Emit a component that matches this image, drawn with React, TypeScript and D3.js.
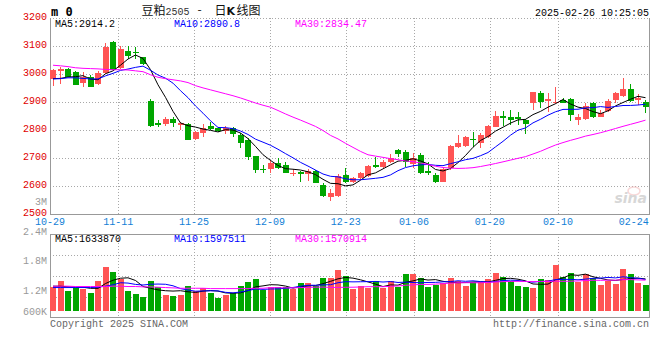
import React from "react";
import * as d3 from "d3";

const dates = ["10-29","10-30","10-31","11-01","11-04","11-05","11-06","11-07","11-08","11-11","11-12","11-13","11-14","11-15","11-18","11-19","11-20","11-21","11-22","11-25","11-26","11-27","11-28","11-29","12-02","12-03","12-04","12-05","12-06","12-09","12-10","12-11","12-12","12-13","12-16","12-17","12-18","12-19","12-20","12-23","12-24","12-25","12-26","12-27","12-30","12-31","01-02","01-03","01-06","01-07","01-08","01-09","01-10","01-13","01-14","01-15","01-16","01-17","01-20","01-21","01-22","01-23","01-24","01-27","02-05","02-06","02-07","02-10","02-11","02-12","02-13","02-14","02-17","02-18","02-19","02-20","02-21","02-24","02-25","02-26"];

const opens = [2982,3014,3018,3007,2969,2988,2965,3004,3114,3021,3083,3080,3059,2904,2823,2821,2840,2817,2821,2767,2788,2815,2805,2797,2808,2782,2764,2706,2660,2659,2682,2674,2642,2648,2641,2652,2603,2561,2563,2638,2614,2629,2635,2674,2668,2686,2728,2722,2678,2710,2652,2640,2615,2662,2740,2742,2768,2752,2773,2811,2850,2845,2847,2835,2897,2931,2904,2898,2907,2910,2835,2838,2895,2847,2868,2907,2922,2946,2909,2900];
const highs = [3019,3024,3021,3009,3006,2995,3012,3111,3119,3099,3100,3098,3060,2911,2835,2847,2845,2829,2823,2797,2821,2827,2811,2815,2811,2788,2770,2706,2674,2692,2698,2686,2659,2652,2659,2656,2609,2588,2641,2662,2632,2650,2674,2704,2692,2713,2731,2728,2716,2716,2686,2647,2662,2746,2781,2777,2793,2787,2816,2867,2866,2871,2865,2839,2936,2939,2931,2954,2915,2913,2856,2897,2900,2871,2910,2936,2984,2964,2927,2907];
const lows = [2958,2964,2989,2961,2953,2952,2961,3001,3013,3018,3052,3055,3032,2809,2811,2815,2811,2801,2763,2763,2773,2799,2793,2785,2773,2736,2692,2644,2644,2646,2659,2644,2635,2614,2618,2609,2559,2547,2561,2611,2609,2620,2630,2662,2662,2683,2704,2668,2662,2642,2638,2611,2612,2656,2734,2738,2740,2734,2771,2811,2815,2817,2817,2785,2871,2877,2863,2891,2895,2833,2817,2835,2843,2845,2865,2897,2918,2901,2889,2859];
const closes = [3015,3016,2989,2961,2988,2954,3004,3096,3013,3089,3064,3076,3034,2813,2818,2840,2826,2826,2764,2793,2805,2803,2797,2805,2785,2753,2704,2657,2656,2683,2662,2647,2647,2642,2652,2611,2563,2575,2635,2614,2628,2647,2672,2669,2686,2699,2714,2686,2698,2647,2645,2615,2659,2742,2752,2773,2762,2781,2812,2849,2843,2835,2839,2821,2934,2901,2910,2901,2897,2853,2845,2885,2845,2861,2904,2933,2946,2903,2913,2880];
const volumes = [1468000,1658000,1369000,1439000,1410000,1311000,1658000,2063000,1919000,1699000,1369000,1274000,1196000,1658000,1468000,1245000,1225000,1245000,1505000,1369000,1439000,1311000,1167000,1245000,1311000,1505000,1630000,1708000,1389000,1485000,1468000,1468000,1410000,1601000,1601000,1505000,1745000,1745000,1968000,1794000,1410000,1505000,1439000,1650000,1439000,1650000,1468000,1852000,1852000,1728000,1485000,1534000,1601000,1728000,1658000,1505000,1612000,1630000,1708000,1890000,1757000,1650000,1505000,1468000,1439000,1708000,1679000,2112000,1757000,1890000,1630000,1852000,1728000,1534000,1650000,1563000,1997000,1852000,1601000,1534000];

// moving-average values for bars whose window starts before 10-29
const ma5Early = [2983,2984,2989,2990];
const ma10Early = [2982,2983,2986,2986,2984,2982,2982,2993,3002];
const ma30Early = [3031,3029,3026,3022,3020,3019,3018,3016,3015,3015,3014,3011,3008,2997,2988,2983,2979,2975,2969,2958,2950,2943,2936,2929,2922,2914,2905,2896,2888];
const vma5Early = [1500000,1500000,1480000,1470000];
const vma10Early = [1460000,1460000,1460000,1460000,1460000,1460000,1470000,1500000,1540000];
const vma30Early = [1500000,1500000,1500000,1490000,1490000,1490000,1490000,1490000,1500000,1500000,1490000,1490000,1480000,1480000,1470000,1460000,1450000,1440000,1440000,1440000,1440000,1430000,1430000,1430000,1430000,1430000,1430000,1440000,1440000];

const priceTicks = [3200,3100,3000,2900,2800,2700,2600,2500];
const volTicks = [3000000,2400000,1800000,1200000,600000];
const volTickLabels = ["3M","2.4M","1.8M","1.2M","600K"];
const volGridTicks = [1200000,1800000,2400000];
const dateTickIdx = [0,9,19,29,39,48,58,67,77];
const priceMaLabels = ["MA5:2914.2","MA10:2890.8","MA30:2834.47"];
const volMaLabels = ["MA5:1633870","MA10:1597511","MA30:1570914"];
const maColors = ["#000000","#0000ff","#ff00ff"];
const titleCode = "m 0";
const titleName = "豆粕";
const titleContract = "2505";
const titleDash = "-";
const titleDay = "日";
const titleK = "K";
const titleKind = "线图";
const stamp = "2025-02-26 10:25:05";
const copyright = "Copyright 2025 SINA.COM";
const siteUrl = "http://finance.sina.com.cn";

const UP = "#ff5454";
const DOWN = "#00a600";
const GRID = "#a8a8a8";
const BORDER = "#999999";
const MONO = "'Liberation Mono', 'DejaVu Sans Mono', monospace";
const CJK = "'Noto Sans CJK SC', sans-serif";

function movingAvg(vals: number[], n: number, early: number[]) {
  return vals.map((_, i) => (i >= n - 1 ? (d3.mean(vals.slice(i - n + 1, i + 1)) as number) : early[i]));
}

export default function App() {
  const W = 660, H = 360;
  const L = 50, R = 649;
  const pTop = 18, pBot = 213.7;
  const vTop = 234.3, vBot = 317.3;

  const idx = d3.range(dates.length);
  const xb = d3.scaleBand<number>().domain(idx).range([L - 0.75, R + 0.25]).paddingInner(0.2).paddingOuter(0.1);
  const xc = (i: number) => (xb(i) as number) + xb.bandwidth() / 2;
  const xt = d3.scaleLinear().domain([0, dates.length - 1]).range([L, R]);
  const y = d3.scaleLinear().domain([2500, 3200]).range([pBot, pTop]);
  const yv = d3.scaleLinear().domain([600000, 3000000]).range([vBot, vTop]);
  const yvLabel = d3.scaleLinear().domain([1200000, 3000000]).range([294, 205]);
  const volBase = 790000;

  const ma = [movingAvg(closes, 5, ma5Early), movingAvg(closes, 10, ma10Early), movingAvg(closes, 30, ma30Early)];
  const vma = [movingAvg(volumes, 5, vma5Early), movingAvg(volumes, 10, vma10Early), movingAvg(volumes, 30, vma30Early)];

  const pLine = d3.line<number>().x((_, i) => xc(i)).y((d) => y(d));
  const vLine = d3.line<number>().x((_, i) => xc(i)).y((d) => yv(d));

  const snap = (v: number) => Math.round(v) + 0.5;
  const gridX = dateTickIdx.slice(1, dateTickIdx.length - 1).map((i) => snap(xt(i)));
  const maLabelX = [55, 174, 295];

  return (
    <svg width={W} height={H} style={{ position: "absolute", left: 0, top: 0, background: "#fff" }} fontFamily={MONO}>
      <rect x={0} y={0} width={W} height={H} fill="#fff" />

      {/* grids */}
      <g stroke={GRID} strokeWidth={1} strokeDasharray="1,2" shapeRendering="crispEdges">
        {priceTicks.slice(0, -1).map((p) => (
          <line key={"ph" + p} x1={L} x2={R} y1={snap(y(p))} y2={snap(y(p))} />
        ))}
        {gridX.map((gx) => (
          <line key={"pv" + gx} x1={gx} x2={gx} y1={pTop} y2={pBot} />
        ))}
        {volGridTicks.map((v) => (
          <line key={"vh" + v} x1={L} x2={R} y1={snap(yv(v))} y2={snap(yv(v))} />
        ))}
        {gridX.map((gx) => (
          <line key={"vv" + gx} x1={gx} x2={gx} y1={vTop} y2={vBot} />
        ))}
      </g>

      {/* borders */}
      <g stroke={BORDER} strokeWidth={1} fill="none" shapeRendering="crispEdges">
        <line x1={L + 0.5} x2={L + 0.5} y1={pTop} y2={pBot + 0.5} />
        <line x1={R + 0.5} x2={R + 0.5} y1={pTop} y2={pBot + 0.5} />
        <line x1={L} x2={R + 1} y1={snap(pBot)} y2={snap(pBot)} />
        <rect x={L + 0.5} y={snap(vTop)} width={R - L} height={Math.round(vBot - vTop)} />
      </g>

      {/* sina watermark */}
      <g opacity={0.55}>
        <ellipse cx={634} cy={191} rx={6} ry={4} fill="none" stroke="#f3b8b8" strokeWidth={1.5} />
        <text x={647} y={203} textAnchor="end" fontFamily="'DejaVu Sans', sans-serif" fontStyle="italic" fontWeight="bold" fontSize={14} fill="#b8b8b8">sina</text>
      </g>

      {/* candles */}
      <g shapeRendering="crispEdges">
        {idx.map((i) => {
          const up = closes[i] >= opens[i];
          const col = up ? UP : DOWN;
          const top = y(Math.max(opens[i], closes[i]));
          const bot = y(Math.min(opens[i], closes[i]));
          const cx = Math.floor(xc(i)) + 0.5;
          return (
            <g key={"c" + i}>
              <line x1={cx} x2={cx} y1={y(highs[i])} y2={y(lows[i])} stroke={col} strokeWidth={1} />
              <rect x={xb(i)} y={top} width={xb.bandwidth()} height={Math.max(1.5, bot - top)} fill={col} />
            </g>
          );
        })}
      </g>

      {/* price MAs */}
      {ma.map((s, k) => (
        <path key={"ma" + k} d={pLine(s) as string} fill="none" stroke={maColors[k]} strokeWidth={1} />
      ))}

      {/* volume bars */}
      <g shapeRendering="crispEdges">
        {idx.map((i) => {
          const up = closes[i] >= opens[i];
          return (
            <rect key={"v" + i} x={xb(i)} y={yv(volumes[i])} width={xb.bandwidth()} height={yv(volBase) - yv(volumes[i])} fill={up ? UP : DOWN} />
          );
        })}
      </g>
      {vma.map((s, k) => (
        <path key={"vma" + k} d={vLine(s) as string} fill="none" stroke={maColors[k]} strokeWidth={1} />
      ))}

      {/* price axis labels */}
      <g fontSize={10} fill="#e00000" textAnchor="end">
        {priceTicks.map((p) => (
          <text key={"pl" + p} x={47} y={Math.min(Math.max(y(p) + 2, 18.5), 215.5)}>{p}</text>
        ))}
      </g>
      {/* volume axis labels */}
      <g fontSize={10} fill="#999999" textAnchor="end">
        {volTicks.map((v, k) => (
          <text key={"vl" + v} x={47} y={Math.min(yvLabel(v), 315)}>{volTickLabels[k]}</text>
        ))}
      </g>
      {/* date labels */}
      <g fontSize={10} fill="#1280d6" textAnchor="middle">
        {dateTickIdx.map((i) => (
          <text key={"d" + i} x={xt(i)} y={224.5}>{dates[i]}</text>
        ))}
      </g>

      {/* header */}
      <text x={51} y={15.5} fontSize={12} fontWeight="bold" fontFamily="'DejaVu Sans Mono', monospace" fill="#000">{titleCode}</text>
      <text x={141.5} y={15} fontSize={12} fontFamily={CJK} fill="#111">{titleName}</text>
      <text x={165.5} y={15} fontSize={10} fill="#333">{titleContract}</text>
      <text x={197.5} y={14} fontSize={12} fontFamily={CJK} fill="#111">{titleDash}</text>
      <text x={214.5} y={15} fontSize={12} fontFamily={CJK} fill="#111">{titleDay}</text>
      <text x={226.5} y={15} fontSize={11} fontWeight="bold" fontFamily="'DejaVu Sans', sans-serif" fill="#111">{titleK}</text>
      <text x={236.5} y={15} fontSize={12} fontFamily={CJK} fill="#111">{titleKind}</text>
      <text x={649} y={15.7} fontSize={10} textAnchor="end" fill="#000">{stamp}</text>

      {priceMaLabels.map((t, k) => (
        <text key={"pml" + k} x={maLabelX[k]} y={27.3} fontSize={10} fill={maColors[k]}>{t}</text>
      ))}
      {volMaLabels.map((t, k) => (
        <text key={"vml" + k} x={maLabelX[k]} y={241.7} fontSize={10} fill={maColors[k]}>{t}</text>
      ))}

      {/* footer */}
      <text x={50} y={327.3} fontSize={10} fill="#666">{copyright}</text>
      <text x={649} y={327.3} fontSize={10} fill="#666" textAnchor="end">{siteUrl}</text>
    </svg>
  );
}
